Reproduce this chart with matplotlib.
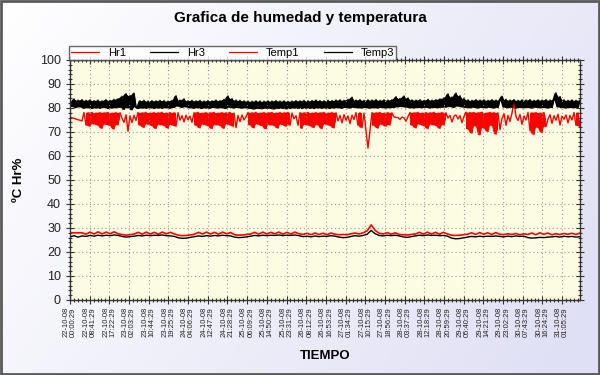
import matplotlib.pyplot as plt
from matplotlib.colors import LinearSegmentedColormap
from matplotlib.patches import Rectangle
from matplotlib.ticker import MultipleLocator
import numpy as np

plt.rcParams['font.family'] = ['Liberation Sans', 'DejaVu Sans']

# time span shown on the x axis, in hours from 22-10-08 00:00:29
SPAN_HOURS = 225.0
TICK_STEP_H = 521 / 60.0

tick_labels = [
    '22-10-08\n00:00:29', '22-10-08\n08:41:29', '22-10-08\n17:22:29',
    '23-10-08\n02:03:29', '23-10-08\n10:44:29', '23-10-08\n19:25:29',
    '24-10-08\n04:06:29', '24-10-08\n12:47:29', '24-10-08\n21:28:29',
    '25-10-08\n06:09:29', '25-10-08\n14:50:29', '25-10-08\n23:31:29',
    '26-10-08\n08:12:29', '26-10-08\n16:53:29', '27-10-08\n01:34:29',
    '27-10-08\n10:15:29', '27-10-08\n18:56:29', '28-10-08\n03:37:29',
    '28-10-08\n12:18:29', '28-10-08\n20:59:29', '29-10-08\n05:40:29',
    '29-10-08\n14:21:29', '29-10-08\n23:02:29', '30-10-08\n07:43:29',
    '30-10-08\n16:24:29', '31-10-08\n01:05:29',
]

hr1 = [
    76.2, 75.9, 75.7, 75.4, 75.1, 74.9, 74.6,
    78.1, 72.9, 78.0, 72.4, 78.2, 73.3, 77.9, 72.8, 78.1, 71.5, 78.0, 73.1, 78.2, 72.7, 77.9, 71.2, 78.1, 72.9, 78.0,
    75.8, 74.0, 77.2, 70.3, 76.8, 73.9, 77.0, 74.8,
    78.1, 72.8, 78.0, 71.9, 78.2, 73.2, 77.9, 72.6, 78.1, 71.4, 78.0, 73.0, 78.2, 72.7, 77.9, 71.6, 78.1, 72.9, 78.0, 72.4, 78.1,
    74.9, 76.8, 74.2, 77.0, 75.1, 76.6, 74.0,
    78.0, 72.8, 78.2, 71.7, 77.9, 73.1, 78.1, 72.6, 78.0, 71.4, 78.2, 72.9, 77.9, 72.7, 78.1, 71.5, 78.0, 73.2, 78.2, 72.6, 77.9, 71.8,
    76.9, 74.3, 77.1, 75.0, 76.4,
    78.1, 72.9, 78.0, 71.7, 78.2, 73.2, 77.9, 72.6, 78.1, 71.3, 78.0, 72.9, 78.2, 72.7, 77.9, 71.6, 78.1, 73.1, 78.0, 72.4, 78.2, 72.8, 77.9,
    75.5, 76.8,
    72.8, 78.1, 71.5, 78.0, 73.0, 78.2, 72.6, 77.9, 71.8, 78.1, 72.9, 78.0, 71.4, 78.2, 73.2, 77.9, 72.7, 78.1, 71.7, 78.0,
    74.6, 76.9, 73.8, 77.2, 74.9, 76.7, 73.5, 77.0, 75.2,
    78.1, 72.8, 78.0, 71.8, 77.9, 70.5, 63.3, 70.8, 78.1, 72.7, 78.0, 71.6, 78.2, 73.1, 77.9, 72.4, 78.1, 72.9, 78.0,
    76.3, 76.1, 76.0, 75.2, 76.2, 75.9, 74.5, 76.4,
    78.1, 72.8, 78.0, 71.7, 78.2, 73.2, 77.9, 72.6, 78.1, 71.4, 78.0, 73.0, 78.2, 72.7, 77.9, 71.5, 78.1, 72.9, 78.0,
    75.8, 76.9, 74.2, 76.6, 77.1, 75.4, 76.8, 73.9, 76.5,
    78.3, 71.2, 78.1, 69.5, 78.2, 72.4, 78.0, 68.8, 78.3, 71.6, 77.9, 70.2, 78.2, 72.6, 78.1, 69.1, 78.0, 71.0,
    75.6, 77.6, 72.8, 76.9, 74.4, 77.9, 82.8, 76.5, 74.8, 77.3, 73.2, 76.7, 75.0,
    78.2, 70.6, 78.0, 69.0, 78.1, 71.8, 77.9, 69.8, 78.1, 72.2,
    75.4, 77.2, 73.6, 76.8, 74.9, 77.4, 72.9, 76.6, 75.3, 77.1, 73.8, 76.9, 75.0,
    78.1, 72.8, 78.0, 72.3,
]

# periods (hours) where the Hr1 trace oscillates so fast it reads as a solid band
hr1_dense_periods = [
    (6.2, 22.1), (30.0, 47.6), (54.7, 73.2), (78.5, 97.9), (100.6, 117.4),
    (126.2, 129.7), (132.4, 142.1), (150.0, 165.9), (174.7, 189.7),
    (202.1, 210.0), (222.4, 225.0),
]

hr3 = [
    82.6, 80.6, 83.8, 80.2, 83.3, 80.5, 83.5,
    79.9, 83.2, 80.1, 83.4, 79.8, 83.1, 80.0, 83.3, 79.9, 83.0, 80.2, 83.5, 79.8, 83.2, 80.0, 83.6, 80.1, 83.9, 80.3,
    84.9, 79.5, 86.0, 80.1, 85.2, 79.3, 86.2, 80.6,
    79.8, 83.0, 80.0, 83.2, 79.9, 82.9, 80.1, 83.1, 79.8, 83.0, 80.0, 83.2, 79.9, 83.1, 80.1, 82.9, 79.9, 83.2, 80.2, 85.1, 80.8,
    83.3, 80.3, 83.8, 80.5, 83.0, 80.1, 83.2,
    79.9, 83.0, 80.1, 83.2, 79.8, 82.9, 80.0, 83.1, 79.9, 83.0, 80.2, 83.3, 80.0, 83.1, 80.1, 83.6, 79.8, 85.0, 80.3, 83.9, 80.0, 83.3,
    80.2, 83.2, 79.9, 83.0, 80.1,
    82.9, 79.8, 82.8, 79.6, 83.0, 79.8, 82.9, 79.7, 82.8, 79.9,
    83.0, 79.8, 82.9, 79.6, 83.1, 79.8, 82.9, 79.9, 83.0, 79.7,
    82.8, 79.8, 82.9, 80.0, 83.1, 79.9, 83.0, 79.8, 83.2, 80.0,
    83.0, 79.9, 83.1, 79.8, 83.3, 80.0, 83.1, 79.9, 83.0, 80.0,
    83.2, 79.8, 83.1, 80.0, 83.3,
    80.1, 83.4, 79.9, 83.2, 80.2, 83.6, 80.0, 84.5, 80.3,
    83.3, 80.1, 83.5, 80.0, 83.2, 80.2, 83.4, 79.9, 83.3, 80.1, 83.5, 80.0, 83.2, 80.2, 83.4, 80.0, 83.3, 80.1, 83.5,
    80.2, 84.7, 80.5, 84.0, 80.6, 85.0, 80.4, 84.2,
    80.1, 83.4, 80.0, 83.3, 80.2, 83.5, 80.1, 83.2, 80.3, 83.6, 80.0, 83.3, 80.2, 83.5, 80.1, 83.8, 80.3, 84.2, 80.4,
    85.9, 80.6, 84.6, 80.3, 86.2, 80.8, 85.1, 80.5, 84.0,
    80.2, 83.4, 80.1, 83.2, 80.3, 83.5, 80.0, 83.3, 80.2, 83.4, 80.1, 83.2, 80.3, 83.5, 80.0, 83.3, 80.2, 83.4,
    84.9, 80.4, 83.6, 80.1, 83.3, 80.3, 83.5, 80.0, 83.2, 80.2, 83.4, 80.1, 83.3,
    80.2, 83.5, 80.0, 83.2, 80.3, 83.4, 80.1, 83.3, 80.2, 83.5,
    80.0, 83.3, 80.2, 83.6, 86.3, 80.5, 84.8, 80.2, 83.4, 80.0, 83.2, 80.2, 83.4,
    80.1, 83.2, 80.2, 83.3,
]

temp1 = [
    28.0, 28.0, 28.0, 28.0,
    27.4, 28.3, 27.5, 28.4, 27.5, 28.3, 27.6, 28.4, 27.6,
    27.3, 27.0, 27.2,
    27.5, 28.2, 27.4, 28.3, 27.5, 28.2, 27.4, 28.3, 27.6, 28.2, 27.5,
    27.0, 26.8, 26.9, 27.1,
    27.4, 28.2, 27.5, 28.3, 27.5, 28.2, 27.4, 28.3, 27.6, 28.1,
    27.2, 27.0, 27.1, 27.3,
    27.5, 28.2, 27.4, 28.3, 27.5, 28.2, 27.6, 28.3, 27.4, 28.2, 27.5, 28.3, 27.6,
    27.3, 27.8, 27.2, 27.9, 27.3, 27.8, 27.2, 27.9, 27.4,
    27.2, 27.3, 27.2,
    27.6, 27.9, 27.5, 28.0, 28.8,
    31.3,
    29.0, 27.8,
    27.5, 28.1, 27.4, 28.0, 27.3,
    27.2, 27.1, 27.3,
    27.5, 28.2, 27.4, 28.3, 27.5, 28.2, 27.4, 28.2, 27.5,
    27.0, 26.9, 27.0, 27.2,
    27.4, 28.0, 27.3, 28.1, 27.4, 28.0, 27.3, 28.1, 27.4,
    27.2, 27.6, 27.3, 27.7, 27.2, 27.6,
    27.3, 27.9, 27.2, 28.0, 27.4, 27.9,
    27.2, 27.6, 27.3, 27.7, 27.4, 27.8, 27.3, 27.9,
]

temp3 = [
    26.3, 26.8, 26.2, 26.7,
    26.5, 26.9, 26.6, 27.0, 26.7, 27.0, 26.8, 27.1, 26.9,
    26.5, 26.2, 26.4,
    26.6, 26.9, 26.7, 27.0, 26.8, 27.0, 26.9, 27.1, 26.8, 26.7, 26.5,
    25.9, 25.7, 25.8, 26.1,
    26.4, 26.7, 26.5, 26.8, 26.6, 26.9, 26.7, 27.0, 26.8, 26.7,
    26.2, 26.0, 26.1, 26.3,
    26.6, 26.9, 26.7, 27.0, 26.8, 27.0, 26.9, 27.1, 26.8, 27.0, 26.9, 27.1, 26.8,
    26.4, 26.6, 26.3, 26.7, 26.4, 26.6, 26.5, 26.8, 26.6,
    26.2, 26.0, 26.1,
    26.5, 26.8, 26.6, 26.9, 27.4,
    29.0,
    27.6, 26.9,
    26.7, 27.0, 26.8, 27.0, 26.7,
    26.3, 26.1, 26.4,
    26.7, 27.0, 26.8, 27.1, 26.9, 27.0, 26.8, 26.9, 26.6,
    25.8, 25.5, 25.6, 25.9,
    26.2, 26.5, 26.3, 26.6, 26.4, 26.6, 26.5, 26.7, 26.5,
    26.3, 26.6, 26.4, 26.7, 26.5, 26.6,
    26.0, 25.8, 25.9, 26.1, 26.0, 26.2,
    26.3, 26.5, 26.2, 26.6, 26.3, 26.5, 26.2, 26.4,
]

series = [
    ('Hr1', hr1, '#ff0000', 1.0),
    ('Hr3', hr3, '#000000', 1.0),
    ('Temp1', temp1, '#ff0000', 1.2),
    ('Temp3', temp3, '#000000', 1.0),
]


def sweep(vals):
    """lower/upper edge swept by the trace between consecutive samples"""
    v = np.asarray(vals)
    nxt = np.append(v[1:], v[-1])
    return np.minimum(v, nxt), np.maximum(v, nxt)


W, H = 600, 375
fig = plt.figure(figsize=(6, 3.75), dpi=100)

# lavender gradient behind everything
bg = fig.add_axes([0, 0, 1, 1], zorder=-10)
xx, yy = np.meshgrid(np.linspace(0, 1, 300), np.linspace(0, 1, 200))
cmap_bg = LinearSegmentedColormap.from_list('bg', ['#ffffff', '#e0e0f5'])
bg.imshow(xx * 0.8 + yy * 0.35, cmap=cmap_bg, aspect='auto', extent=[0, 1, 0, 1], vmin=0, vmax=1.1)
bg.set_axis_off()
fig.patches.append(Rectangle((0.002, 0.003), 0.996, 0.994, transform=fig.transFigure,
                             fill=False, edgecolor='#5a5a5a', linewidth=2))

ax = fig.add_axes([70 / W, 1 - 300 / H, 510 / W, 240 / H])
ax.set_facecolor('#fcfce2')

lines = []
for name, vals, color, lw in series:
    t = np.linspace(0, SPAN_HOURS, len(vals))
    if name == 'Hr1':
        lo, hi = sweep(vals)
        dense = np.zeros(len(t), dtype=bool)
        for a, b in hr1_dense_periods:
            dense |= (t >= a) & (t <= b)
        ax.fill_between(t, lo, hi, where=dense, color=color, linewidth=0)
    elif name == 'Hr3':
        lo, hi = sweep(vals)
        ax.fill_between(t, lo, hi, color=color, linewidth=0)
    ln, = ax.plot(t, vals, color=color, linewidth=lw, label=name)
    lines.append(ln)

ax.set_xlim(0, SPAN_HOURS)
ax.set_ylim(0, 100)

tick_pos = [k * TICK_STEP_H for k in range(len(tick_labels))]
ax.set_xticks(tick_pos)
ax.set_xticklabels(tick_labels, rotation=90, fontsize=5.5, linespacing=1.05, color='#222222')
ax.xaxis.set_minor_locator(MultipleLocator(TICK_STEP_H / 5))
ax.yaxis.set_major_locator(MultipleLocator(10))
ax.yaxis.set_minor_locator(MultipleLocator(2))
ax.tick_params(axis='y', labelsize=9, labelcolor='#222222')
ax.tick_params(which='both', direction='inout', top=True, right=True, color='#333333', width=0.8)
ax.tick_params(which='major', length=6)
ax.tick_params(which='minor', length=3)
ax.tick_params(axis='x', pad=2)

ax.grid(True, which='major', color='#9a9a9a', linestyle=(0, (1, 2.5)), linewidth=0.8)
for sp in ax.spines.values():
    sp.set_color('#333333')
    sp.set_linewidth(1)

fig.text(0.5, 1 - 18 / H, 'Grafica de humedad y temperatura', ha='center', va='center',
         fontsize=11, fontweight='bold')
fig.text(325 / W, 1 - 356 / H, 'TIEMPO', ha='center', va='center', fontsize=9.5, fontweight='bold')
fig.text(19 / W, 1 - 180 / H, 'ºC Hr%', ha='center', va='center', rotation=90,
         fontsize=9.5, fontweight='bold')

leg = fig.legend(lines, [s[0] for s in series], loc='lower left',
                 bbox_to_anchor=(69 / W, 1 - 60 / H), ncol=4, fontsize=8,
                 frameon=True, fancybox=False, borderaxespad=0, borderpad=0.2,
                 handlelength=2.5, columnspacing=2.2, handletextpad=0.8)
leg.get_frame().set_edgecolor('#444444')
leg.get_frame().set_linewidth(1)
leg.get_frame().set_facecolor('white')
for h in leg.get_lines():
    h.set_linewidth(0.9)

fig.savefig('out.png', dpi=100)
